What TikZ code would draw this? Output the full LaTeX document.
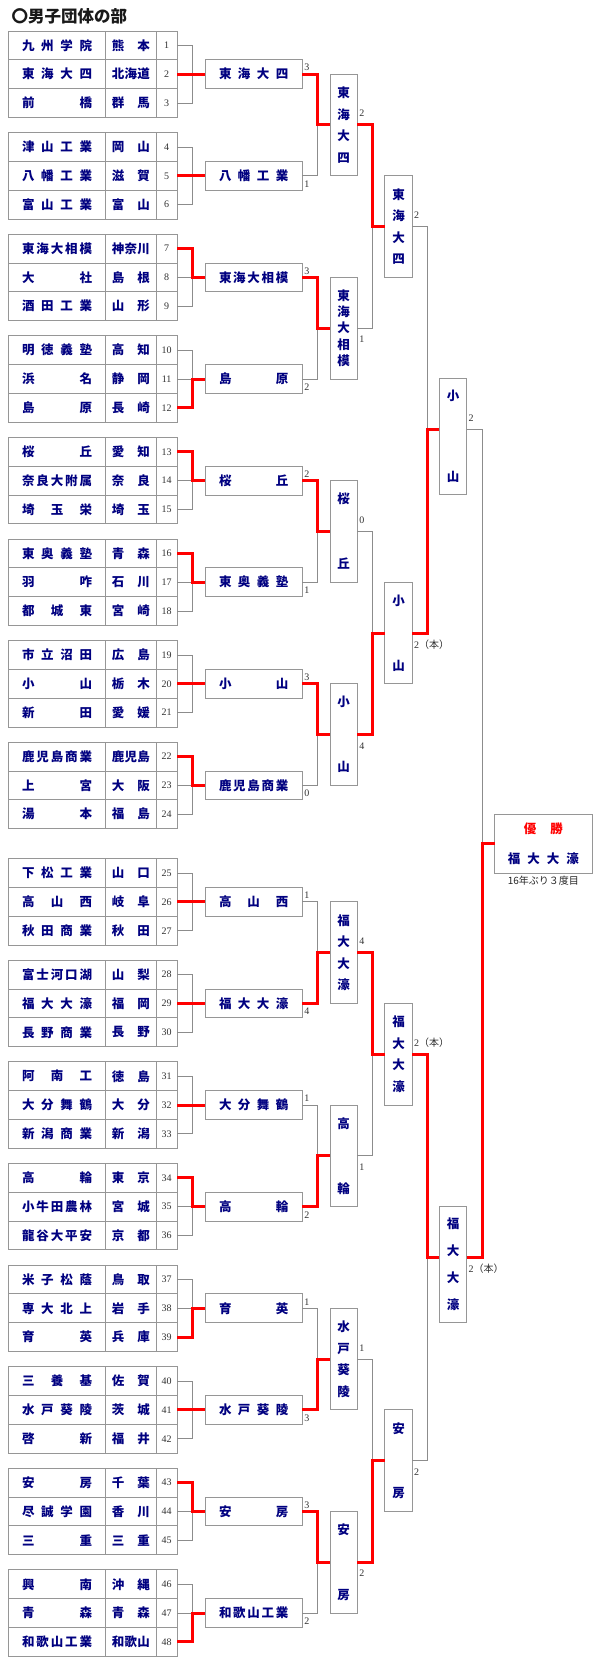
\documentclass[tikz,border=0pt]{standalone}
\usepackage{fontspec}
\setmainfont{Liberation Serif}
\newfontfamily\cjk{Noto Sans CJK JP}
\usetikzlibrary{calc}
\definecolor{navy}{RGB}{0,0,128}
\definecolor{bordergray}{RGB}{150,150,150}
\definecolor{linegray}{RGB}{140,140,140}
\definecolor{numgray}{RGB}{50,50,50}
\long\def\sprdii#1#2#3\endsprd{#2\ifx\relax#3\relax\else#1\sprdii{#1}#3\endsprd\fi}
\long\def\sprdi#1#2{\sprdii{#2}#1\endsprd}
\newcommand\sprd[2]{\edef\sprdtmp{#2}\expandafter\sprdi\expandafter{\sprdtmp}{#1}}
\newcommand\hsp[2]{\makebox[#1]{\sprd{\hfill}{#2}}}
\newcommand\vsp[2]{\parbox[c][#1][s]{14pt}{\centering\sprd{\par\vfill}{#2}}}
\newcommand\nmfont{\cjk\bfseries\fontsize{12.5}{12.5}\selectfont}
\newcommand\nbfont{\fontsize{10}{10}\selectfont}
\newcommand\hon{{\cjk\fontsize{10}{10}\selectfont （本）}}
\tikzset{
 cell/.style={draw=bordergray, line width=0.9pt, inner sep=0pt, outer sep=0pt, minimum height=28.8pt},
 namecell/.style={cell, minimum width=97.4pt, text=navy, font=\nmfont},
 prefcell/.style={cell, minimum width=50.3pt, text=navy, font=\nmfont},
 numcell/.style={cell, minimum width=21.3pt, text=numgray, font=\nbfont},
 hbox/.style={cell, minimum width=97.3pt, text=navy, font=\nmfont},
 vbox/.style={draw=bordergray, line width=0.9pt, inner sep=0pt, outer sep=0pt, minimum width=27.4pt, minimum height=101.6pt, text=navy, font=\nmfont},
 gl/.style={draw=linegray, line width=0.9pt},
 rl/.style={draw=red, line width=3pt},
 score/.style={inner sep=0pt, outer sep=0pt, text=numgray, font=\nbfont, anchor=base west},
}
\begin{document}
\begin{tikzpicture}[x=1pt,y=-1pt]
\useasboundingbox[fill=white] (0,0) rectangle (600,1680);
\node[anchor=west, inner sep=0pt, font=\cjk\bfseries\fontsize{16.5}{16.5}\selectfont, text=black!90] (title) at (11.5,16.7) {〇男子団体の部};
% ---------- first round groups ----------
\foreach \i/\na/\pa/\nb/\pb/\nc/\pc/\wr/\wn/\ws in {
1/九州学院/熊本/東海大四/北海道/前橋/群馬/2/東海大四/3,
2/津山工業/岡山/八幡工業/滋賀/富山工業/富山/2/八幡工業/1,
3/東海大相模/神奈川/大社/島根/酒田工業/山形/1/東海大相模/3,
4/明徳義塾/高知/浜名/静岡/島原/長崎/3/島原/2,
5/桜丘/愛知/奈良大附属/奈良/埼玉栄/埼玉/1/桜丘/2,
6/東奥義塾/青森/羽咋/石川/都城東/宮崎/1/東奥義塾/1,
7/市立沼田/広島/小山/栃木/新田/愛媛/2/小山/3,
8/鹿児島商業/鹿児島/上宮/大阪/湯本/福島/1/鹿児島商業/0,
9/下松工業/山口/高山西/岐阜/秋田商業/秋田/2/高山西/1,
10/富士河口湖/山梨/福大大濠/福岡/長野商業/長野/2/福大大濠/4,
11/阿南工/徳島/大分舞鶴/大分/新潟商業/新潟/2/大分舞鶴/1,
12/高輪/東京/小牛田農林/宮城/龍谷大平安/京都/1/高輪/2,
13/米子松蔭/鳥取/専大北上/岩手/育英/兵庫/3/育英/1,
14/三養基/佐賀/水戸葵陵/茨城/啓新/福井/2/水戸葵陵/3,
15/安房/千葉/尽誠学園/香川/三重/三重/1/安房/3,
16/興南/沖縄/青森/青森/和歌山工業/和歌山/3/和歌山工業/2}
{
\pgfmathsetmacro\g{31+101.6*(\i-1)+(\i>8)*14.9}
\pgfmathtruncatemacro\ka{3*\i-2}
\pgfmathtruncatemacro\kb{3*\i-1}
\pgfmathtruncatemacro\kc{3*\i}
\pgfmathtruncatemacro\kw{3*\i-3+\wr}
\node[namecell] (nm\ka) at (57,\g+14.4) {\hsp{70pt}{\na}};
\node[namecell] (nm\kb) at (57,\g+43.2) {\hsp{70pt}{\nb}};
\node[namecell] (nm\kc) at (57,\g+72) {\hsp{70pt}{\nc}};
\node[prefcell] (pf\ka) at (130.85,\g+14.4) {\hsp{38pt}{\pa}};
\node[prefcell] (pf\kb) at (130.85,\g+43.2) {\hsp{38pt}{\pb}};
\node[prefcell] (pf\kc) at (130.85,\g+72) {\hsp{38pt}{\pc}};
\node[numcell] (n\ka) at (166.65,\g+14.4) {\ka};
\node[numcell] (n\kb) at (166.65,\g+43.2) {\kb};
\node[numcell] (n\kc) at (166.65,\g+72) {\kc};
\node[hbox] (a\i) at (253.65,\g+43.2) {\hsp{69.3pt}{\wn}};
\coordinate (ja\i) at (192.7,\g+43.2);
\draw[gl] (n\ka.east) -| (ja\i);
\draw[gl] (n\kc.east) -| (ja\i);
\draw[gl] (n\kb.east) -- (a\i.west);
\draw[rl] (n\kw.east) -| (ja\i) -- (a\i.west);
\ifodd\i\relax
 \node[score] (sa\i) at ($(a\i.east)+(2,-3.3)$) {\ws};
\else
 \node[score] (sa\i) at ($(a\i.east)+(2,11.3)$) {\ws};
\fi
}
% ---------- second round ----------
\foreach \k/\nm/\sc/\wu in {1/東海大四/2/1,2/東海大相模/1/1,3/桜丘/0/1,4/小山/4/1,5/福大大濠/4/2,6/高輪/1/2,7/水戸葵陵/1/2,8/安房/2/1}
{
\pgfmathsetmacro\yb{74.2+101.6*(2*\k-1.5)+(\k>4)*14.9}
\pgfmathtruncatemacro\ia{2*\k-1}
\pgfmathtruncatemacro\ib{2*\k}
\pgfmathtruncatemacro\iw{2*\k-2+\wu}
\node[vbox] (b\k) at (343.65,\yb) {\vsp{75.5pt}{\nm}};
\coordinate (jb\k) at (317.3,\yb);
\draw[gl] (a\ia.east) -| (jb\k) -- (b\k.west);
\draw[gl] (a\ib.east) -| (jb\k);
\draw[rl] (a\iw.east) -| (jb\k) -- (b\k.west);
\ifodd\k\relax
 \node[score] (sb\k) at ($(b\k.east)+(2,-8)$) {\sc};
\else
 \node[score] (sb\k) at ($(b\k.east)+(2,14.5)$) {\sc};
\fi
}
% ---------- third round ----------
\foreach \m/\nm/\sc/\wu in {1/東海大四/2/1,2/小山/2\hon/2,3/福大大濠/2\hon/1,4/安房/2/2}
{
\pgfmathsetmacro\yc{74.2+101.6*(4*\m-2.5)+(\m>2)*14.9}
\pgfmathtruncatemacro\ia{2*\m-1}
\pgfmathtruncatemacro\ib{2*\m}
\pgfmathtruncatemacro\iw{2*\m-2+\wu}
\node[vbox] (c\m) at (398.5,\yc) {\vsp{75.5pt}{\nm}};
\coordinate (jc\m) at (372.7,\yc);
\draw[gl] (b\ia.east) -| (jc\m) -- (c\m.west);
\draw[gl] (b\ib.east) -| (jc\m);
\draw[rl] (b\iw.east) -| (jc\m) -- (c\m.west);
\ifodd\m\relax
 \node[score] (sc\m) at ($(c\m.east)+(2,-8.3)$) {\sc};
\else
 \node[score] (sc\m) at ($(c\m.east)+(2,15.2)$) {\sc};
\fi
}
% ---------- semi finals ----------
\foreach \p/\nm/\sc/\wu in {1/小山/2/2,2/福大大濠/2\hon/1}
{
\pgfmathsetmacro\yd{74.2+101.6*(8*\p-4.5)+(\p>1)*14.9}
\pgfmathtruncatemacro\ia{2*\p-1}
\pgfmathtruncatemacro\ib{2*\p}
\pgfmathtruncatemacro\iw{2*\p-2+\wu}
\node[vbox, minimum height=115.6pt] (d\p) at (453,\yd+6.8) {\vsp{91.5pt}{\nm}};
\coordinate (jd\p) at (427.3,\yd);
\draw[gl] (c\ia.east) -| (jd\p) -- (jd\p -| d\p.west);
\draw[gl] (c\ib.east) -| (jd\p);
\draw[rl] (c\iw.east) -| (jd\p) -- (jd\p -| d\p.west);
\ifodd\p\relax
 \node[score] (sd\p) at ($(d\p.east |- jd\p)+(2,-8.8)$) {\sc};
\else
 \node[score] (sd\p) at ($(d\p.east |- jd\p)+(2,15.2)$) {\sc};
\fi
}
% ---------- final ----------
\node[draw=bordergray, line width=0.9pt, inner sep=0pt, outer sep=0pt, minimum width=97.3pt, minimum height=59pt] (w) at (543.35,843.65) {};
\node[inner sep=0pt, text=red, font=\nmfont] (wt) at (543.35,828.3) {\hsp{39pt}{優勝}};
\node[inner sep=0pt, text=navy, font=\nmfont] (wn) at (543.35,858.3) {\hsp{71pt}{福大大濠}};
\node[inner sep=0pt, text=black!85, font=\cjk\fontsize{10}{10}\selectfont] (note) at (543.3,880.7) {16年ぶり３度目};
\coordinate (jw) at (482.3,843.65);
\draw[gl] (d1.east |- jd1) -| (jw) -- (w.west);
\draw[gl] (d2.east |- jd2) -| (jw);
\draw[rl] (d2.east |- jd2) -| (jw) -- (w.west);
\end{tikzpicture}
\end{document}
